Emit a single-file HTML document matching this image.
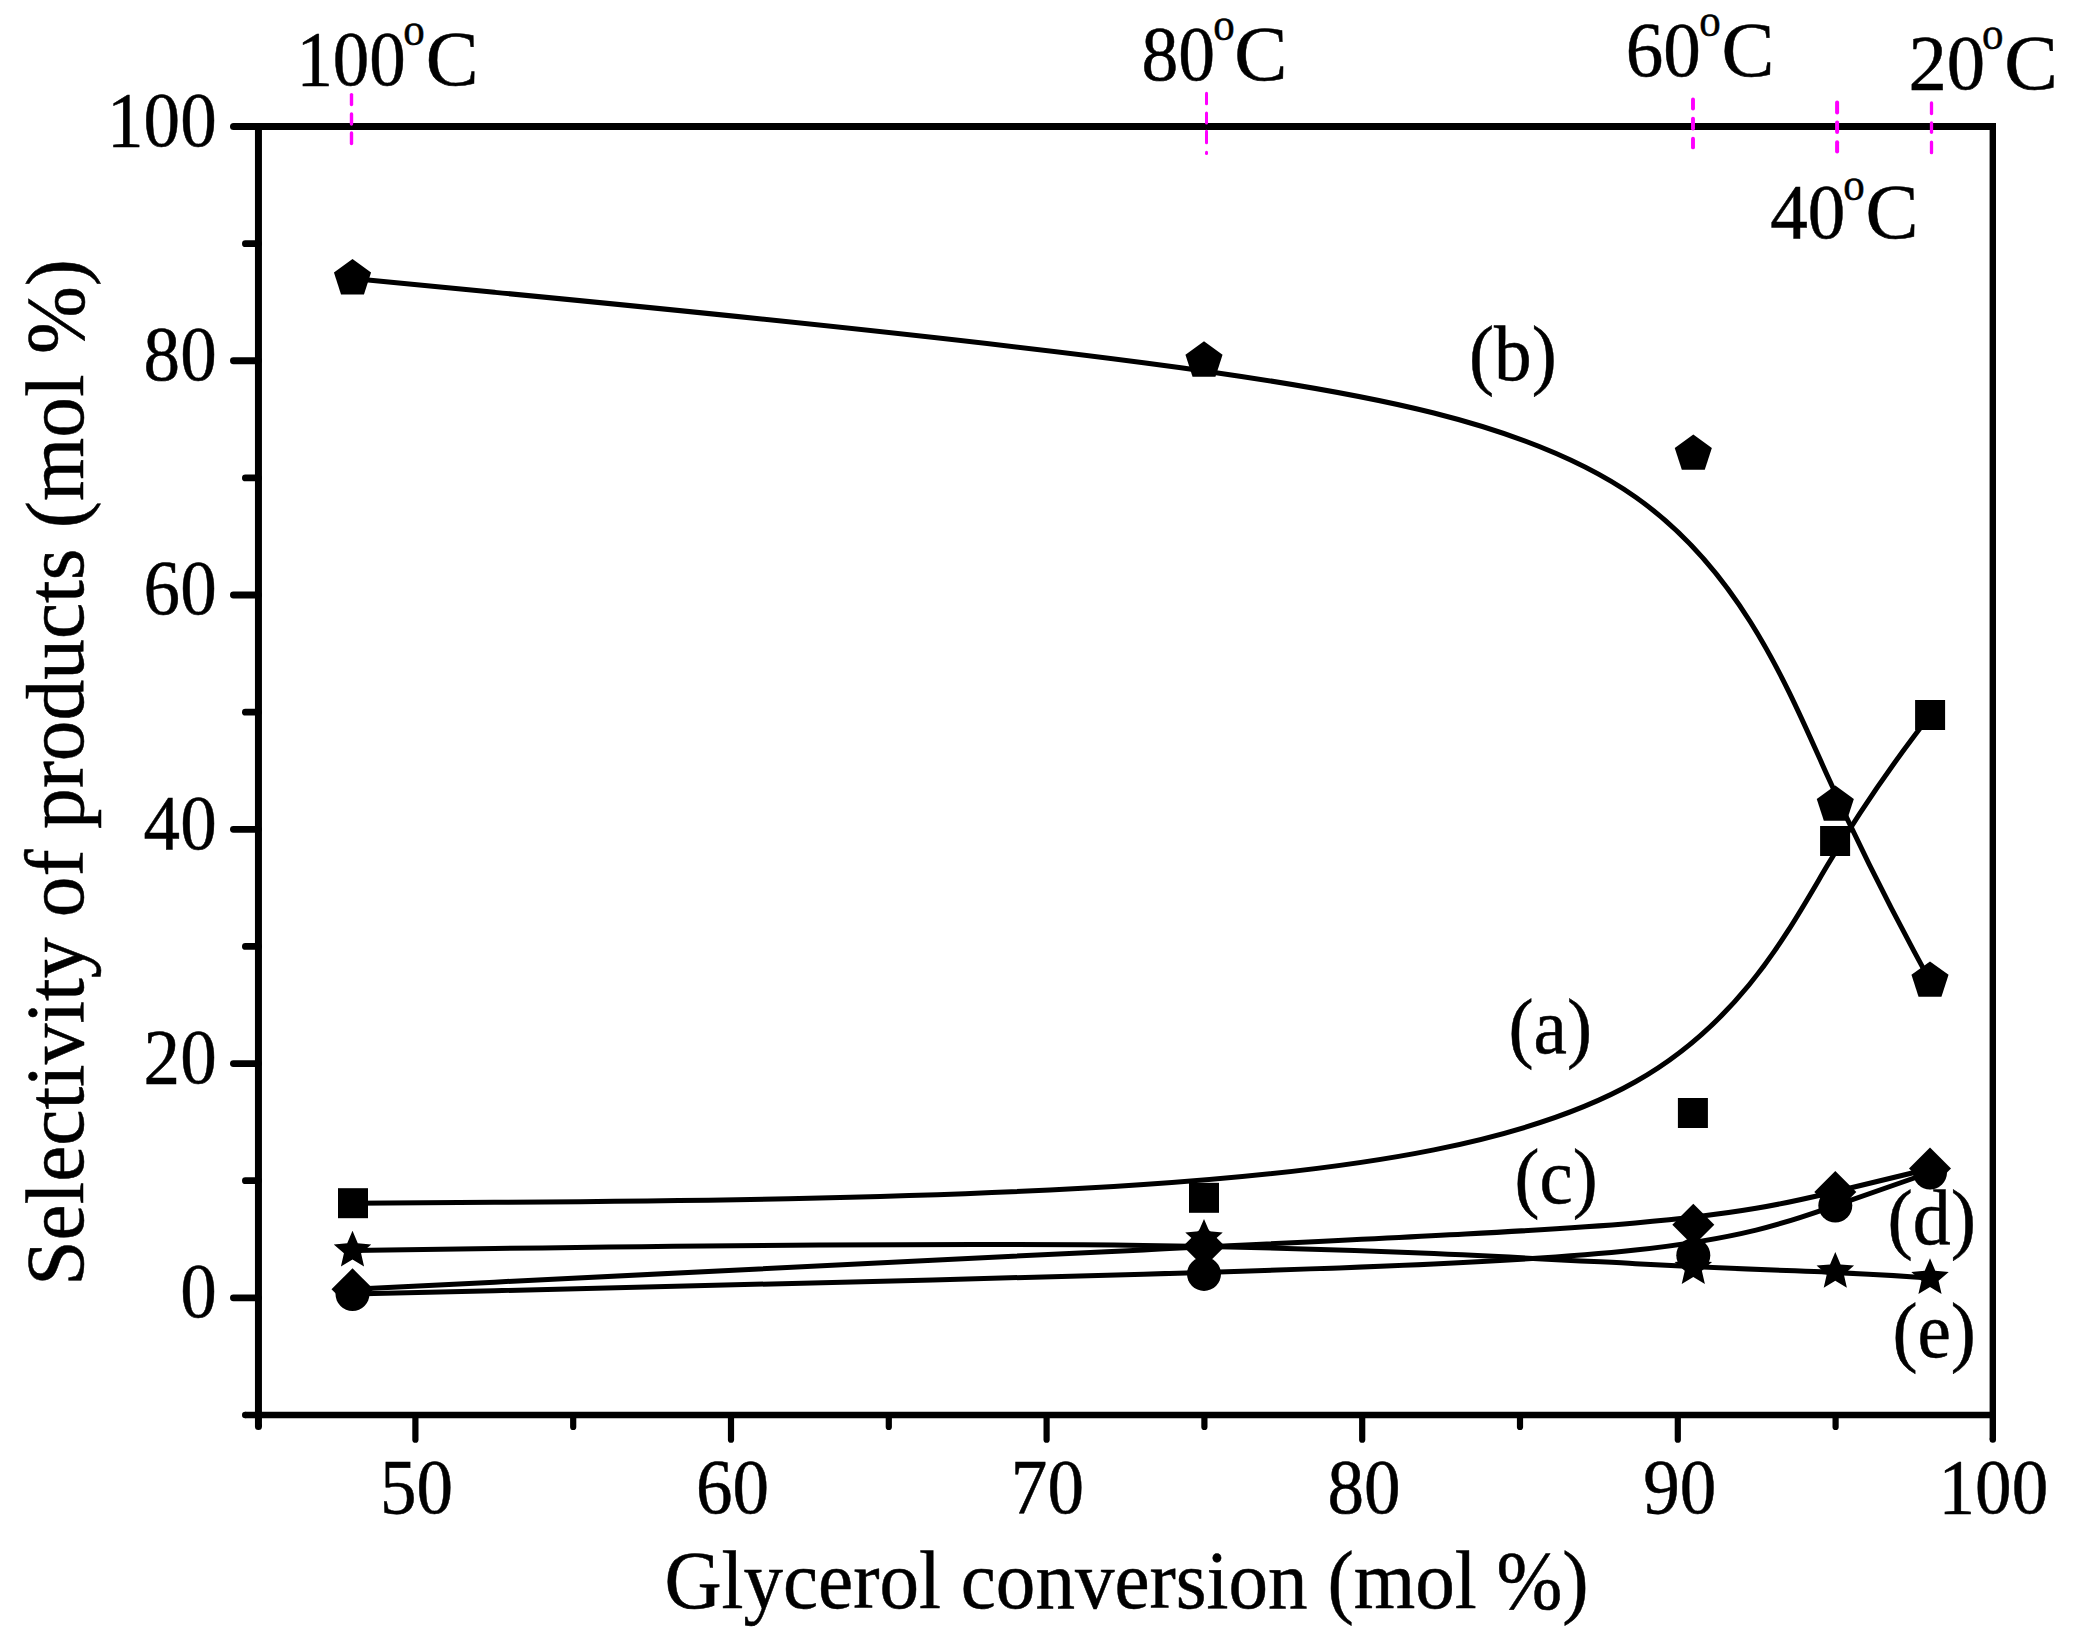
<!DOCTYPE html>
<html><head><meta charset="utf-8"><title>Selectivity of products vs glycerol conversion</title>
<style>
html,body{margin:0;padding:0;background:#fff;}
svg{display:block;}
text{font-family:"Liberation Serif",serif;fill:#000;}
</style></head><body>
<svg width="2075" height="1637" viewBox="0 0 2075 1637">
<rect width="2075" height="1637" fill="#fff"/>
<g stroke="#000" fill="none">
<path d="M258.45,123.0 V1426.5" stroke-width="7"/>
<circle cx="258.45" cy="1426.5" r="3.5" fill="#000" stroke="none"/>
<path d="M1992.8,123.0 V1439.5" stroke-width="6.4"/>
<circle cx="1992.8" cy="1439.5" r="3.2" fill="#000" stroke="none"/>
<path d="M233.5,126.5 H1996.0" stroke-width="7"/>
<circle cx="233.5" cy="126.5" r="3.5" fill="#000" stroke="none"/>
<path d="M245.2,1415.0 H1992.8" stroke-width="6.4"/>
<circle cx="245.2" cy="1415.0" r="3.2" fill="#000" stroke="none"/>
</g>
<g stroke="#000" stroke-linecap="round" fill="none">
<line x1="233.40" y1="1297.80" x2="258.45" y2="1297.80" stroke-width="6.8"/>
<line x1="245.40" y1="1180.67" x2="258.45" y2="1180.67" stroke-width="6.8"/>
<line x1="233.40" y1="1063.54" x2="258.45" y2="1063.54" stroke-width="6.8"/>
<line x1="245.40" y1="946.41" x2="258.45" y2="946.41" stroke-width="6.8"/>
<line x1="233.40" y1="829.28" x2="258.45" y2="829.28" stroke-width="6.8"/>
<line x1="245.40" y1="712.15" x2="258.45" y2="712.15" stroke-width="6.8"/>
<line x1="233.40" y1="595.02" x2="258.45" y2="595.02" stroke-width="6.8"/>
<line x1="245.40" y1="477.89" x2="258.45" y2="477.89" stroke-width="6.8"/>
<line x1="233.40" y1="360.76" x2="258.45" y2="360.76" stroke-width="6.8"/>
<line x1="245.40" y1="243.63" x2="258.45" y2="243.63" stroke-width="6.8"/>
<line x1="415.40" y1="1415.0" x2="415.40" y2="1439.70" stroke-width="6.2"/>
<line x1="573.20" y1="1415.0" x2="573.20" y2="1426.90" stroke-width="6.2"/>
<line x1="731.00" y1="1415.0" x2="731.00" y2="1439.70" stroke-width="6.2"/>
<line x1="888.80" y1="1415.0" x2="888.80" y2="1426.90" stroke-width="6.2"/>
<line x1="1046.60" y1="1415.0" x2="1046.60" y2="1439.70" stroke-width="6.2"/>
<line x1="1204.40" y1="1415.0" x2="1204.40" y2="1426.90" stroke-width="6.2"/>
<line x1="1362.20" y1="1415.0" x2="1362.20" y2="1439.70" stroke-width="6.2"/>
<line x1="1520.00" y1="1415.0" x2="1520.00" y2="1426.90" stroke-width="6.2"/>
<line x1="1677.80" y1="1415.0" x2="1677.80" y2="1439.70" stroke-width="6.2"/>
<line x1="1835.60" y1="1415.0" x2="1835.60" y2="1426.90" stroke-width="6.2"/>
</g>
<g stroke="#f0f" stroke-width="3.4" stroke-linecap="round">
<line x1="351.5" y1="94.6" x2="351.5" y2="104.5"/>
<line x1="351.5" y1="114.0" x2="351.5" y2="124.0"/>
<line x1="351.5" y1="133.0" x2="351.5" y2="143.5"/>
</g>
<g stroke="#f0f" stroke-width="3.0" stroke-linecap="round">
<line x1="1206.5" y1="93.2" x2="1206.5" y2="103.8"/>
<line x1="1206.5" y1="113.0" x2="1206.5" y2="123.0"/>
<line x1="1206.5" y1="131.2" x2="1206.5" y2="142.8"/>
<line x1="1206.5" y1="152.2" x2="1206.5" y2="153.6"/>
</g>
<g stroke="#f0f" stroke-width="3.9" stroke-linecap="round">
<line x1="1693.0" y1="99.5" x2="1693.0" y2="108.5"/>
<line x1="1693.0" y1="118.6" x2="1693.0" y2="128.6"/>
<line x1="1693.0" y1="138.8" x2="1693.0" y2="147.4"/>
</g>
<g stroke="#f0f" stroke-width="4.0" stroke-linecap="round">
<line x1="1837.1" y1="102.4" x2="1837.1" y2="112.6"/>
<line x1="1837.1" y1="122.4" x2="1837.1" y2="132.1"/>
<line x1="1837.1" y1="142.3" x2="1837.1" y2="151.4"/>
</g>
<g stroke="#f0f" stroke-width="3.3" stroke-linecap="round">
<line x1="1931.5" y1="103.0" x2="1931.5" y2="113.6"/>
<line x1="1931.5" y1="123.0" x2="1931.5" y2="132.3"/>
<line x1="1931.5" y1="142.1" x2="1931.5" y2="152.7"/>
</g>
<g stroke="#000" stroke-width="5" fill="none" stroke-linejoin="round">
<path d="M352.50,1203.20 C352.50,1203.20 352.50,1203.20 494.42,1202.30 C636.33,1201.40 920.17,1199.60 1143.63,1184.57 C1367.10,1169.53 1530.20,1141.27 1635.42,1081.80 C1740.63,1022.33 1787.97,931.67 1827.42,865.33 C1866.87,799.00 1898.43,757.00 1914.22,736.00 C1930.00,715.00 1930.00,715.00 1930.00,715.00"/>
<path d="M352.50,278.60 C352.50,278.60 352.50,278.60 494.42,292.31 C636.33,306.02 920.17,333.43 1143.63,362.67 C1367.10,391.90 1530.20,422.95 1635.42,496.97 C1740.63,571.00 1787.97,688.00 1827.42,775.82 C1866.87,863.63 1898.43,922.27 1914.22,951.58 C1930.00,980.90 1930.00,980.90 1930.00,980.90"/>
<path d="M352.50,1289.30 C352.50,1289.30 352.50,1289.30 494.42,1282.13 C636.33,1274.97 920.17,1260.63 1143.63,1249.88 C1367.10,1239.13 1530.20,1231.97 1635.42,1222.90 C1740.63,1213.83 1787.97,1202.87 1827.42,1193.50 C1866.87,1184.13 1898.43,1176.37 1914.22,1172.48 C1930.00,1168.60 1930.00,1168.60 1930.00,1168.60"/>
<path d="M352.50,1294.10 C352.50,1294.10 352.50,1294.10 494.42,1290.73 C636.33,1287.37 920.17,1280.63 1143.63,1274.15 C1367.10,1267.67 1530.20,1261.43 1635.42,1250.03 C1740.63,1238.63 1787.97,1222.07 1827.42,1208.28 C1866.87,1194.50 1898.43,1183.50 1914.22,1178.00 C1930.00,1172.50 1930.00,1172.50 1930.00,1172.50"/>
<path d="M352.50,1250.50 C352.50,1250.50 352.50,1250.50 494.42,1248.52 C636.33,1246.53 920.17,1242.57 1143.63,1245.48 C1367.10,1248.40 1530.20,1258.20 1635.42,1263.72 C1740.63,1269.23 1787.97,1270.47 1827.42,1272.13 C1866.87,1273.80 1898.43,1275.90 1914.22,1276.95 C1930.00,1278.00 1930.00,1278.00 1930.00,1278.00"/>
</g>
<g fill="#000">
<rect x="338.00" y="1188.20" width="30" height="30"/>
<rect x="1189.00" y="1182.80" width="30" height="30"/>
<rect x="1677.90" y="1098.00" width="30" height="30"/>
<rect x="1820.10" y="826.00" width="30" height="30"/>
<rect x="1915.10" y="700.00" width="30" height="30"/>
<polygon points="352.50,259.10 371.05,272.57 363.96,294.38 341.04,294.38 333.95,272.57"/>
<polygon points="1204.00,341.35 1222.55,354.82 1215.46,376.63 1192.54,376.63 1185.45,354.82"/>
<polygon points="1693.30,434.50 1711.85,447.97 1704.76,469.78 1681.84,469.78 1674.75,447.97"/>
<polygon points="1835.30,785.50 1853.85,798.97 1846.76,820.78 1823.84,820.78 1816.75,798.97"/>
<polygon points="1930.00,961.40 1948.55,974.87 1941.46,996.68 1918.54,996.68 1911.45,974.87"/>
<polygon points="352.50,1268.30 373.50,1289.30 352.50,1310.30 331.50,1289.30"/>
<polygon points="1204.00,1225.30 1225.00,1246.30 1204.00,1267.30 1183.00,1246.30"/>
<polygon points="1693.30,1203.80 1714.30,1224.80 1693.30,1245.80 1672.30,1224.80"/>
<polygon points="1835.30,1170.90 1856.30,1191.90 1835.30,1212.90 1814.30,1191.90"/>
<polygon points="1930.00,1147.60 1951.00,1168.60 1930.00,1189.60 1909.00,1168.60"/>
<circle cx="352.50" cy="1294.10" r="17"/>
<circle cx="1204.00" cy="1273.90" r="17"/>
<circle cx="1693.30" cy="1255.20" r="17"/>
<circle cx="1835.30" cy="1205.50" r="17"/>
<circle cx="1930.00" cy="1172.50" r="17"/>
<polygon points="352.50,1230.80 357.79,1243.22 371.24,1244.41 361.06,1253.28 364.08,1266.44 352.50,1259.50 340.92,1266.44 343.94,1253.28 333.76,1244.41 347.21,1243.22"/>
<polygon points="1204.00,1218.90 1209.29,1231.32 1222.74,1232.51 1212.56,1241.38 1215.58,1254.54 1204.00,1247.60 1192.42,1254.54 1195.44,1241.38 1185.26,1232.51 1198.71,1231.32"/>
<polygon points="1693.30,1248.30 1698.59,1260.72 1712.04,1261.91 1701.86,1270.78 1704.88,1283.94 1693.30,1277.00 1681.72,1283.94 1684.74,1270.78 1674.56,1261.91 1688.01,1260.72"/>
<polygon points="1835.30,1252.00 1840.59,1264.42 1854.04,1265.61 1843.86,1274.48 1846.88,1287.64 1835.30,1280.70 1823.72,1287.64 1826.74,1274.48 1816.56,1265.61 1830.01,1264.42"/>
<polygon points="1930.00,1258.30 1935.29,1270.72 1948.74,1271.91 1938.56,1280.78 1941.58,1293.94 1930.00,1287.00 1918.42,1293.94 1921.44,1280.78 1911.26,1271.91 1924.71,1270.72"/>
</g>
<text transform="translate(379.93,1513.00) scale(0.9250,1)" font-size="79" stroke="#000" stroke-width="0.5">50</text>
<text transform="translate(696.08,1513.00) scale(0.9250,1)" font-size="79" stroke="#000" stroke-width="0.5">60</text>
<text transform="translate(1010.85,1513.00) scale(0.9250,1)" font-size="79" stroke="#000" stroke-width="0.5">70</text>
<text transform="translate(1327.46,1513.00) scale(0.9250,1)" font-size="79" stroke="#000" stroke-width="0.5">80</text>
<text transform="translate(1643.28,1513.00) scale(0.9250,1)" font-size="79" stroke="#000" stroke-width="0.5">90</text>
<text transform="translate(1938.57,1513.00) scale(0.9250,1)" font-size="79" stroke="#000" stroke-width="0.5">100</text>
<text transform="translate(180.15,1317.20) scale(0.9250,1)" font-size="79" stroke="#000" stroke-width="0.5">0</text>
<text transform="translate(143.61,1082.94) scale(0.9250,1)" font-size="79" stroke="#000" stroke-width="0.5">20</text>
<text transform="translate(143.61,848.68) scale(0.9250,1)" font-size="79" stroke="#000" stroke-width="0.5">40</text>
<text transform="translate(143.61,614.42) scale(0.9250,1)" font-size="79" stroke="#000" stroke-width="0.5">60</text>
<text transform="translate(143.61,380.16) scale(0.9250,1)" font-size="79" stroke="#000" stroke-width="0.5">80</text>
<text transform="translate(107.07,145.90) scale(0.9250,1)" font-size="79" stroke="#000" stroke-width="0.5">100</text>
<text transform="translate(296.39,84.80) scale(0.9231,1)" font-size="79" stroke="#000" stroke-width="0.5">100</text>
<text transform="translate(403.26,44.60) scale(0.9250,1)" font-size="46.5" stroke="#000" stroke-width="0.5">o</text>
<text transform="translate(425.75,84.80) scale(1.0024,1)" font-size="79" stroke="#000" stroke-width="0.5">C</text>
<text transform="translate(1141.50,80.00) scale(0.9317,1)" font-size="79" stroke="#000" stroke-width="0.5">80</text>
<text transform="translate(1213.26,40.40) scale(0.9250,1)" font-size="46.5" stroke="#000" stroke-width="0.5">o</text>
<text transform="translate(1234.33,80.00) scale(1.0090,1)" font-size="79" stroke="#000" stroke-width="0.5">C</text>
<text transform="translate(1625.67,76.40) scale(0.9518,1)" font-size="79" stroke="#000" stroke-width="0.5">60</text>
<text transform="translate(1699.26,35.90) scale(0.9250,1)" font-size="46.5" stroke="#000" stroke-width="0.5">o</text>
<text transform="translate(1721.54,76.40) scale(1.0046,1)" font-size="79" stroke="#000" stroke-width="0.5">C</text>
<text transform="translate(1908.42,88.70) scale(0.9722,1)" font-size="79" stroke="#000" stroke-width="0.5">20</text>
<text transform="translate(1982.06,49.30) scale(0.9250,1)" font-size="46.5" stroke="#000" stroke-width="0.5">o</text>
<text transform="translate(2004.30,88.70) scale(1.0179,1)" font-size="79" stroke="#000" stroke-width="0.5">C</text>
<text transform="translate(1770.13,238.40) scale(0.9510,1)" font-size="79" stroke="#000" stroke-width="0.5">40</text>
<text transform="translate(1843.16,199.60) scale(0.9250,1)" font-size="46.5" stroke="#000" stroke-width="0.5">o</text>
<text transform="translate(1865.44,238.40) scale(1.0068,1)" font-size="79" stroke="#000" stroke-width="0.5">C</text>
<text transform="translate(1469.10,379.50) scale(0.9510,1)" font-size="79" stroke="#000" stroke-width="0.5">(b)</text>
<text transform="translate(1887.47,1244.00) scale(0.9604,1)" font-size="79" stroke="#000" stroke-width="0.5">(d)</text>
<text transform="translate(1892.39,1357.00) scale(0.9525,1)" font-size="79" stroke="#000" stroke-width="0.5">(e)</text>
<text transform="translate(1508.49,1053.40) scale(0.9525,1)" font-size="79" stroke="#000" stroke-width="0.5">(a)</text>
<text transform="translate(1514.51,1202.80) scale(0.9475,1)" font-size="79" stroke="#000" stroke-width="0.5">(c)</text>
<text transform="translate(664.46,1607.50) scale(0.9469,1)" font-size="83.5" stroke="#000" stroke-width="0.5">Glycerol conversion (mol %)</text>
<text transform="translate(82.5,1285.85) rotate(-90) scale(0.9753,1)" font-size="83.5" stroke="#000" stroke-width="0.5">Selectivity of products (mol %)</text>
</svg>
</body></html>
